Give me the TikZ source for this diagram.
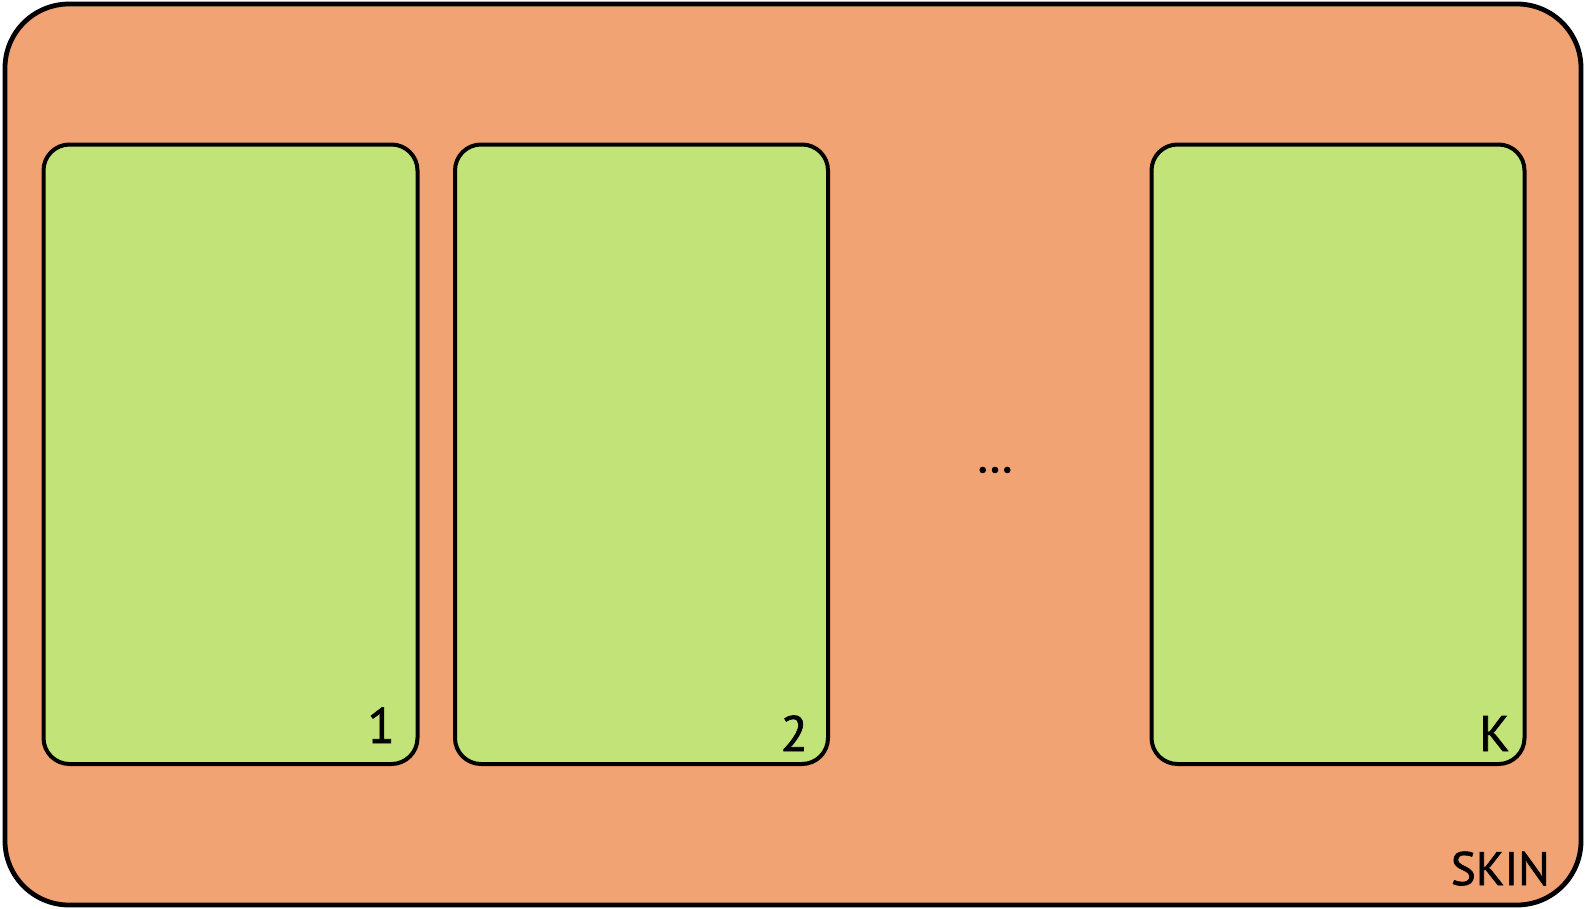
\documentclass[tikz,border=0pt]{standalone}
\usepackage{fontspec}
\setmainfont{PT Sans}
\newfontfamily\lblfont[FakeBold=1.3]{PT Sans}
\newfontfamily\dotfont[FakeBold=3]{PT Sans}
\definecolor{skinc}{HTML}{F1A374}
\definecolor{cellc}{HTML}{C1E377}
\begin{document}
\begin{tikzpicture}[x=1pt,y=-1pt,
  cell/.style={draw=black,line width=4pt,fill=cellc,rounded corners=26pt},
  lbl/.style={font=\lblfont\fontsize{50}{50}\selectfont,inner sep=0pt,anchor=base east}]
\useasboundingbox (0,0) rectangle (1585,908);
\draw[line width=4.8pt,fill=skinc,rounded corners=64pt] (5,4) rectangle (1581,905);
\draw[cell] (43.5,144.5) rectangle (417.5,764);
\draw[cell] (455,144.5) rectangle (828,764);
\draw[cell] (1151.5,144.5) rectangle (1524.5,764);
\node[lbl] (l1) at (395,743) {1};
\node[lbl] (l2) at (808,751) {2};
\node[lbl] (lk) at (1510,751) {K};
\node[lbl,font=\lblfont\fontsize{47}{47}\selectfont] (skin) at (1550,885) {SKIN};
\node[font=\dotfont\fontsize{44}{44}\selectfont,inner sep=0pt,anchor=base] (dots) at (995,472) {...};
\end{tikzpicture}
\end{document}
